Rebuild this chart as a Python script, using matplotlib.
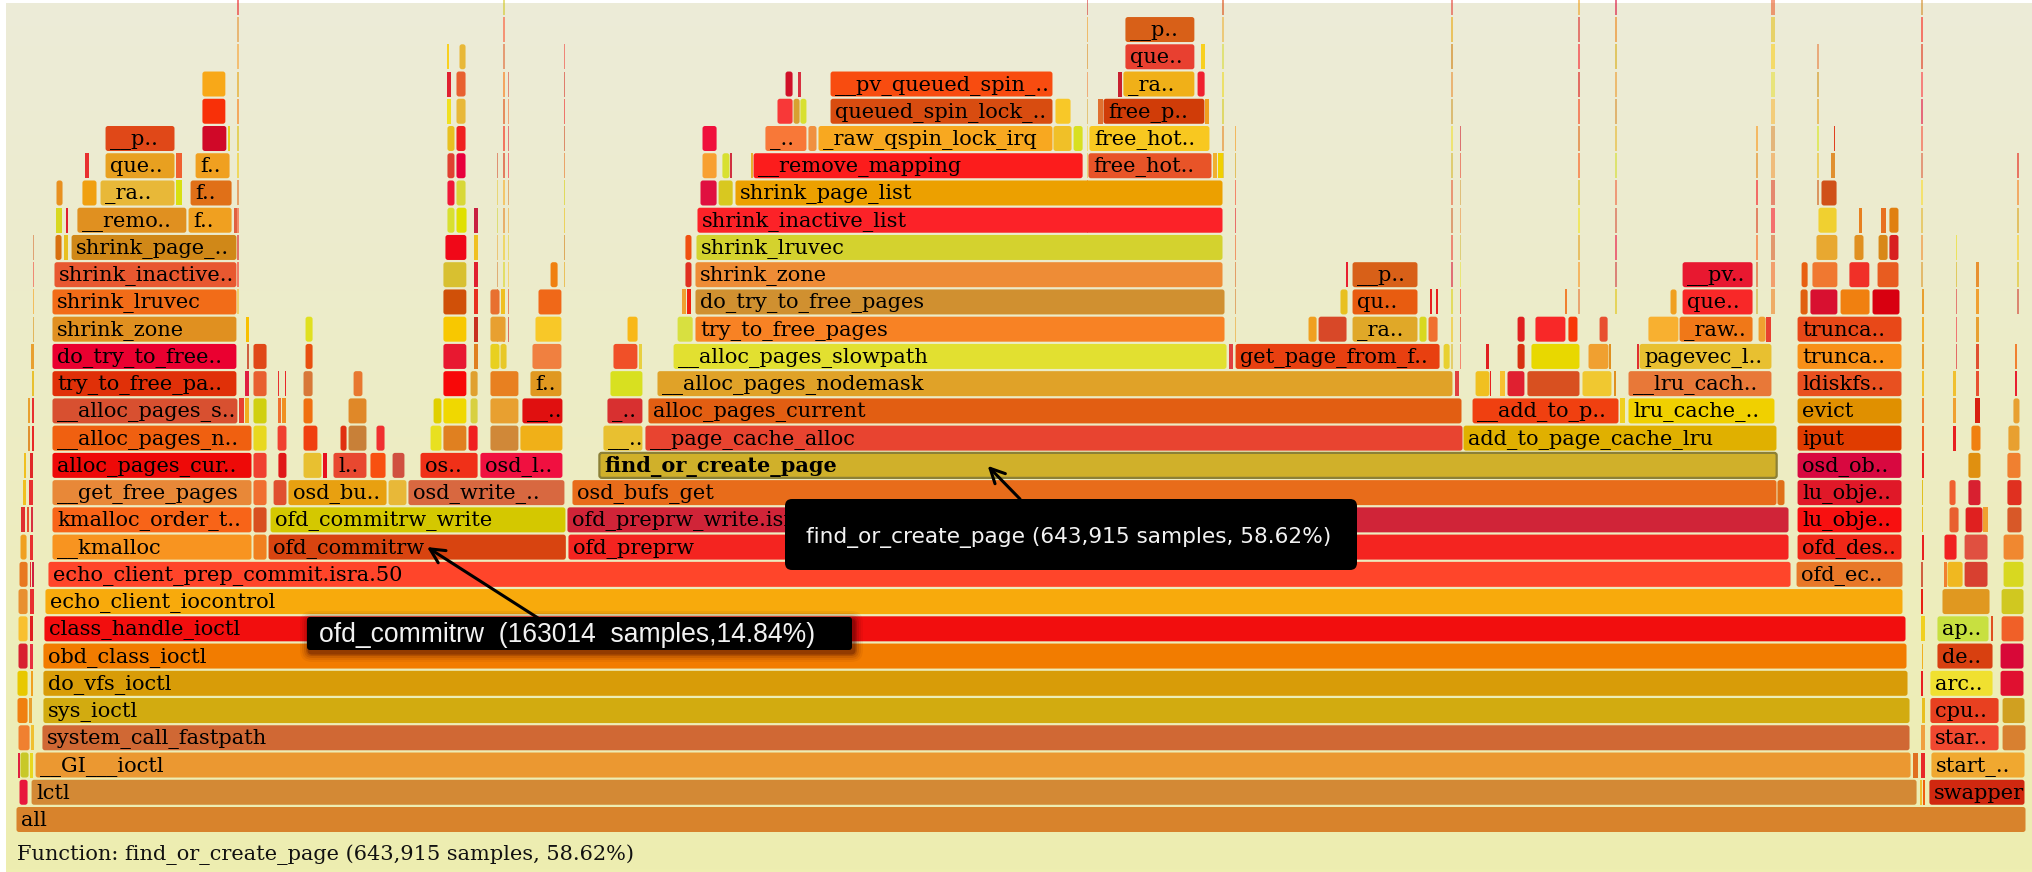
import zlib
import numpy as np
import matplotlib
matplotlib.use("Agg")
import matplotlib.pyplot as plt
from matplotlib.patches import FancyBboxPatch, Rectangle
from matplotlib import transforms
from matplotlib.colors import to_rgb

# ---------------------------------------------------------------- data
TOTAL_SAMPLES = 1098456
FOCUS_SAMPLES = {"find_or_create_page": 643915, "ofd_commitrw": 163014}

# frames per stack depth: (start %, width %, label)
STACKS = {
    0: [(0.00, 100.00, "all")],
    1: [(0.15, 0.45, ""), (0.75, 93.83, "lctl"), (94.68, 0.15, ""), (94.83, 0.19, ""),
        (95.17, 4.78, "swapper")],
    2: [(0.05, 0.15, ""), (0.20, 0.45, ""), (0.65, 0.20, ""), (0.95, 93.33, "__GI___ioctl"),
        (94.33, 0.30, ""), (94.73, 0.25, ""), (95.27, 4.68, "start_..")],
    3: [(0.10, 0.60, ""), (0.70, 0.20, ""), (1.29, 92.94, "system_call_fastpath"),
        (94.73, 0.25, ""), (95.22, 3.44, "star.."), (98.81, 1.19, "")],
    4: [(0.05, 0.55, ""), (0.60, 0.20, ""), (1.34, 92.89, "sys_ioctl"), (94.78, 0.20, ""),
        (95.22, 3.44, "cpu.."), (98.81, 1.14, "")],
    5: [(0.05, 0.55, ""), (0.70, 0.15, ""), (1.34, 92.79, "do_vfs_ioctl"), (94.73, 0.15, ""),
        (95.22, 3.14, "arc.."), (98.71, 1.19, "")],
    6: [(0.10, 0.50, ""), (0.65, 0.20, ""), (1.34, 92.74, "obd_class_ioctl"), (94.78, 0.10, ""),
        (95.57, 2.79, "de.."), (98.71, 1.19, "")],
    7: [(0.10, 0.50, ""), (0.65, 0.20, ""), (1.39, 92.64, "class_handle_ioctl"),
        (94.73, 0.25, ""), (95.57, 2.59, "ap.."), (98.21, 0.15, ""), (98.76, 1.14, "")],
    8: [(0.10, 0.50, ""), (0.65, 0.25, ""), (1.44, 92.44, "echo_client_iocontrol"),
        (94.73, 0.15, ""), (95.82, 2.39, ""), (98.76, 1.14, "")],
    9: [(0.15, 0.45, ""), (0.65, 0.10, ""), (0.75, 0.15, ""),
        (1.59, 86.72, "echo_client_prep_commit.isra.50"), (88.56, 5.32, "ofd_ec.."),
        (94.73, 0.15, ""), (95.92, 0.15, ""), (96.07, 0.80, ""), (96.92, 1.19, ""),
        (98.86, 1.04, "")],
    10: [(0.20, 0.35, ""), (0.65, 0.20, ""), (1.79, 9.95, "__kmalloc"), (11.79, 0.70, ""),
         (12.54, 14.84, "ofd_commitrw"), (27.46, 60.75, "ofd_preprw"), (88.61, 5.22, "ofd_des.."),
         (94.78, 0.15, ""), (95.92, 0.65, ""), (96.92, 1.19, ""), (98.86, 1.04, "")],
    11: [(0.20, 0.25, ""), (0.50, 0.15, ""), (0.70, 0.15, ""), (1.79, 9.95, "kmalloc_order_t.."),
         (11.79, 0.70, ""), (12.64, 14.72, "ofd_commitrw_write"),
         (27.41, 60.80, "ofd_preprw_write.isra.46"), (88.61, 5.22, "lu_obje.."),
         (94.78, 0.10, ""), (96.17, 0.50, ""), (96.97, 0.89, ""), (97.86, 0.25, ""),
         (99.05, 0.75, "")],
    12: [(0.30, 0.20, ""), (0.60, 0.25, ""), (1.79, 9.95, "__get_free_pages"), (11.79, 0.70, ""),
         (12.79, 0.69, ""), (13.53, 4.93, "osd_bu.."), (18.51, 0.94, ""),
         (19.50, 7.81, "osd_write_.."), (27.66, 59.95, "osd_bufs_get"), (87.61, 0.40, ""),
         (88.61, 5.22, "lu_obje.."), (94.78, 0.10, ""), (96.17, 0.35, ""), (97.11, 0.65, ""),
         (99.05, 0.75, "")],
    13: [(0.35, 0.15, ""), (0.65, 0.20, ""), (1.79, 9.95, "alloc_pages_cur.."), (11.79, 0.70, ""),
         (13.03, 0.45, ""), (14.28, 0.94, ""), (15.27, 0.25, ""), (15.77, 1.69, "l.."),
         (17.61, 0.80, ""), (18.71, 0.64, ""), (20.10, 2.89, "os.."), (23.08, 4.13, "osd_l.."),
         (28.91, 0.09, ""), (29.00, 58.62, "find_or_create_page"), (88.61, 5.22, "osd_ob.."),
         (94.78, 0.15, ""), (97.11, 0.65, ""), (99.05, 0.70, "")],
    14: [(0.55, 0.15, ""), (0.75, 0.15, ""), (1.79, 9.95, "__alloc_pages_n.."), (11.79, 0.70, ""),
         (12.99, 0.49, ""), (14.28, 0.74, ""), (16.12, 0.35, ""), (16.52, 0.94, ""),
         (17.91, 0.45, ""), (20.60, 0.59, ""), (21.24, 1.19, ""), (22.49, 0.50, ""),
         (23.58, 1.44, ""), (25.07, 2.14, ""), (29.20, 1.99, "__.."),
         (31.29, 40.70, "__page_cache_alloc"), (71.99, 15.62, "add_to_page_cache_lru"),
         (88.61, 5.22, "iput"), (94.78, 0.15, ""), (96.32, 0.20, ""), (97.26, 0.50, ""),
         (99.10, 0.60, "")],
    15: [(0.55, 0.15, ""), (0.75, 0.15, ""), (1.79, 9.25, "__alloc_pages_s.."), (11.09, 0.30, ""),
         (11.39, 0.25, ""), (11.79, 0.70, ""), (12.99, 0.24, ""), (13.23, 0.25, ""),
         (14.28, 0.50, ""), (16.52, 0.94, ""), (20.75, 0.44, ""), (21.24, 1.19, ""),
         (22.59, 0.40, ""), (23.58, 1.44, ""), (25.17, 2.04, "__.."), (29.40, 1.79, "_.."),
         (31.44, 40.50, "alloc_pages_current"), (72.44, 7.31, "__add_to_p.."), (79.80, 0.25, ""),
         (80.20, 7.31, "lru_cache_.."), (88.61, 5.22, "evict"), (94.78, 0.15, ""),
         (96.32, 0.20, ""), (97.46, 0.30, ""), (99.35, 0.35, "")],
    16: [(0.75, 0.15, ""), (1.79, 9.20, "try_to_free_pa.."), (11.39, 0.25, ""), (11.79, 0.70, ""),
         (12.99, 0.10, ""), (13.38, 0.10, ""), (14.28, 0.50, ""), (16.77, 0.49, ""),
         (21.24, 1.19, ""), (22.59, 0.40, ""), (23.58, 1.44, ""), (25.57, 1.59, "f.."),
         (29.55, 1.64, ""), (31.89, 39.60, "__alloc_pages_nodemask"), (71.59, 0.25, ""),
         (72.59, 0.74, ""), (73.33, 0.10, ""), (73.83, 0.25, ""), (74.18, 0.89, ""),
         (75.17, 2.64, ""), (77.91, 1.49, ""), (79.50, 0.15, ""), (80.20, 7.16, "__lru_cach.."),
         (88.61, 5.22, "ldiskfs.."), (94.78, 0.15, ""), (96.32, 0.20, ""), (97.51, 0.20, ""),
         (99.45, 0.15, "")],
    17: [(0.70, 0.20, ""), (1.79, 9.20, "do_try_to_free.."), (11.49, 0.15, ""), (11.79, 0.70, ""),
         (14.38, 0.40, ""), (21.24, 1.19, ""), (22.74, 0.25, ""), (23.58, 0.50, ""),
         (24.08, 0.35, ""), (25.67, 1.49, ""), (29.70, 1.24, ""), (30.99, 0.20, ""),
         (32.69, 27.56, "__alloc_pages_slowpath"), (60.30, 0.25, ""),
         (60.65, 10.20, "get_page_from_f.."), (71.00, 0.35, ""), (73.13, 0.20, ""),
         (74.68, 0.40, ""), (75.37, 2.44, ""), (78.21, 1.04, ""), (79.25, 0.15, ""),
         (80.60, 0.15, ""), (80.75, 6.61, "pagevec_l.."), (88.61, 5.22, "trunca.."),
         (94.78, 0.15, ""), (97.51, 0.20, ""), (99.45, 0.15, "")],
    18: [(1.79, 9.20, "shrink_zone"), (11.44, 0.20, ""), (14.38, 0.40, ""), (21.24, 1.19, ""),
         (22.74, 0.25, ""), (23.58, 0.80, ""), (25.82, 1.34, ""), (30.40, 0.55, ""),
         (32.89, 0.80, ""), (33.78, 26.37, "try_to_free_pages"), (64.28, 0.45, ""),
         (64.78, 1.44, ""), (66.47, 3.28, "_ra.."), (69.80, 0.40, ""), (70.25, 0.50, ""),
         (74.68, 0.40, ""), (75.57, 1.54, ""), (77.21, 0.50, ""), (78.76, 0.45, ""),
         (81.19, 1.54, ""), (82.74, 3.68, "_raw.."), (86.67, 0.40, ""), (87.06, 0.30, ""),
         (88.61, 5.22, "trunca.."), (94.78, 0.15, ""), (97.51, 0.20, "")],
    19: [(1.79, 9.20, "shrink_lruvec"), (21.24, 1.19, ""), (22.74, 0.25, ""), (23.58, 0.50, ""),
         (24.08, 0.25, ""), (25.97, 1.19, ""), (33.13, 0.25, ""), (33.38, 0.25, ""),
         (33.78, 26.37, "do_try_to_free_pages"), (65.87, 0.40, ""), (66.47, 3.28, "qu.."),
         (70.30, 0.15, ""), (70.60, 0.15, ""), (77.06, 0.15, ""), (82.29, 0.35, ""),
         (82.89, 3.53, "que.."), (88.76, 0.40, ""), (89.25, 1.39, ""), (90.75, 1.49, ""),
         (92.34, 1.39, ""), (94.78, 0.15, ""), (97.51, 0.20, "")],
    20: [(1.89, 9.10, "shrink_inactive.."), (21.24, 1.19, ""), (22.74, 0.25, ""),
         (26.57, 0.40, ""), (33.28, 0.35, ""), (33.78, 26.27, "shrink_zone"), (66.12, 0.15, ""),
         (66.47, 3.28, "__p.."), (82.89, 3.53, "__pv.."), (88.81, 0.35, ""), (89.35, 1.29, ""),
         (91.19, 1.04, ""), (92.59, 1.09, ""), (97.51, 0.20, "")],
    21: [(1.94, 0.35, ""), (2.34, 0.25, ""), (2.74, 8.25, "shrink_page_.."), (21.34, 1.09, ""),
         (22.74, 0.25, ""), (33.28, 0.35, ""), (33.83, 26.22, "shrink_lruvec"), (89.55, 1.09, ""),
         (91.44, 0.50, ""), (92.64, 0.50, ""), (93.18, 0.50, "")],
    22: [(1.99, 0.30, ""), (2.44, 0.15, ""), (3.03, 5.47, "__remo.."), (8.56, 2.19, "f.."),
         (10.80, 0.20, ""), (21.44, 0.40, ""), (21.89, 0.55, ""), (22.74, 0.25, ""),
         (33.88, 26.17, "shrink_inactive_list"), (89.65, 0.95, ""), (91.69, 0.20, ""),
         (92.74, 0.30, ""), (93.18, 0.50, "")],
    23: [(1.99, 0.35, ""), (3.28, 0.75, ""), (4.18, 3.73, "_ra.."), (7.96, 0.30, ""),
         (8.66, 2.09, "f.."), (21.44, 0.40, ""), (21.89, 0.50, ""), (34.03, 0.85, ""),
         (34.93, 0.75, ""), (35.77, 24.28, "shrink_page_list"), (89.80, 0.80, "")],
    24: [(3.43, 0.25, ""), (4.43, 3.48, "que.."), (7.96, 0.30, ""), (8.91, 1.74, "f.."),
         (21.44, 0.40, ""), (21.89, 0.50, ""), (34.13, 0.75, ""), (35.12, 0.40, ""),
         (35.52, 0.15, ""), (36.52, 0.15, ""), (36.67, 16.42, "__remove_mapping"),
         (53.33, 6.17, "free_hot.."), (59.55, 0.25, ""), (59.80, 0.25, ""), (90.25, 0.25, "")],
    25: [(4.43, 3.48, "__p.."), (9.25, 1.24, ""), (10.50, 0.15, ""), (21.44, 0.40, ""),
         (21.89, 0.50, ""), (34.13, 0.75, ""), (37.26, 2.09, "_.."), (39.40, 0.45, ""),
         (39.90, 11.69, "_raw_qspin_lock_irq"), (51.59, 0.95, ""), (52.59, 0.50, ""),
         (53.38, 6.02, "free_hot.."), (90.40, 0.10, "")],
    26: [(9.25, 1.19, ""), (21.44, 0.25, ""), (21.89, 0.50, ""), (37.86, 0.80, ""),
         (38.66, 0.35, ""), (39.00, 0.35, ""), (40.50, 11.09, "queued_spin_lock_.."),
         (51.69, 0.80, ""), (53.83, 0.25, ""), (54.08, 5.07, "free_p.."), (59.15, 0.25, "")],
    27: [(9.25, 1.19, ""), (21.44, 0.25, ""), (21.89, 0.50, ""), (38.26, 0.40, ""),
         (38.86, 0.20, ""), (40.50, 11.09, "__pv_queued_spin_.."), (54.78, 0.25, ""),
         (55.07, 3.58, "_ra.."), (58.76, 0.40, "")],
    28: [(21.44, 0.15, ""), (22.04, 0.35, ""), (55.17, 3.48, "que.."), (58.91, 0.25, "")],
    29: [(55.17, 3.48, "__p..")],
}

# hair-thin towers: (start %, width %, lowest depth, highest depth)
SPIKES = [
    (0.85, 0.06, 17, 21), (10.99, 0.10, 19, 30), (23.93, 0.06, 18, 24),
    (24.23, 0.12, 18, 30), (24.48, 0.06, 18, 27), (27.26, 0.06, 20, 28),
    (53.28, 0.06, 22, 30), (60.00, 0.10, 24, 30), (60.65, 0.06, 18, 25),
    (71.39, 0.10, 17, 30), (71.84, 0.06, 17, 25), (77.71, 0.08, 19, 30),
    (79.55, 0.08, 19, 30), (86.57, 0.08, 19, 25), (87.31, 0.20, 19, 30),
    (89.60, 0.08, 23, 28), (94.78, 0.12, 20, 30), (96.52, 0.06, 17, 21),
    (99.55, 0.08, 19, 24),
]

# ---------------------------------------------------------------- colours
FILL = {
    0: ["#d8832c"],
    1: ["#e8183c", "#d38935", "#f0c030", "#f06010", "#d02810"],
    2: ["#e02040", "#c8c828", "#e8d820", "#eb9831", "#e07020", "#e82828", "#f0a830"],
    3: ["#f08030", "#f0c030", "#d06834", "#f0a040", "#f04830", "#d88030"],
    4: ["#f08010", "#e8a030", "#d2ab10", "#e8c020", "#e84020", "#d0a020"],
    5: ["#e8c800", "#f0a020", "#d89c08", "#e82020", "#f0e030", "#e01030"],
    6: ["#d82030", "#e83040", "#f27c00", "#f0b020", "#d84010", "#d80838"],
    7: ["#f8c030", "#e02020", "#f20e0e", "#f0d020", "#c8e040", "#e05020", "#f06028"],
    8: ["#e89030", "#e83030", "#f8aa0c", "#e82010", "#e09820", "#d0c820"],
    9: ["#e87820", "#e03030", "#d02040", "#ff452a", "#e87828", "#d06040", "#f08030",
        "#f0b820", "#d84030", "#d8d820"],
    10: ["#f0a020", "#e83030", "#f89420", "#f08020", "#d84410", "#f42420", "#f02818",
         "#e82020", "#f02020", "#e05040", "#f08830"],
    11: ["#e03030", "#e85030", "#d83040", "#f86418", "#d85020", "#d4c800", "#d02438",
         "#f81010", "#e8c020", "#e86030", "#e02020", "#f0a030", "#d85828"],
    12: ["#f0c020", "#e83030", "#e88838", "#f07030", "#e05030", "#e8a010", "#e8b838",
         "#d86840", "#e86c1a", "#e07018", "#e01828", "#e0c020", "#f06030", "#d82030",
         "#e03020"],
    13: ["#f0c020", "#e02828", "#ee0a08", "#f04030", "#e01818", "#e8c030", "#e81020",
         "#e84830", "#f85010", "#d05040", "#f03018", "#f01040", "#e89030", "#d0b02a",
         "#d80840", "#e82020", "#e09010", "#f08030"],
    14: ["#e09030", "#e82828", "#f06010", "#e8d820", "#f04030", "#f04010", "#e03010",
         "#c88038", "#f03030", "#e8e020", "#e08020", "#f02020", "#d08838", "#f0b018",
         "#e8c030", "#e84430", "#e0b000", "#e03c00", "#f06020", "#e82020", "#f08010",
         "#e8a030"],
    15: ["#e8a030", "#e83030", "#d85030", "#e84030", "#f0b020", "#d0d010", "#f07030",
         "#f09020", "#f07010", "#e08828", "#e0d000", "#f0d800", "#d8d040", "#e8a030",
         "#e01010", "#d83030", "#e25e12", "#f04010", "#f0d020", "#f0d000", "#e09000",
         "#f08030", "#f0a030", "#d82010", "#e8a030"],
    16: ["#e8c030", "#e03008", "#e02040", "#e86030", "#e83030", "#e82828", "#d87838",
         "#e87830", "#f80808", "#e0a030", "#e88020", "#e09820", "#d8e020", "#e0a228",
         "#e04040", "#f0c020", "#e82020", "#f8c030", "#e02030", "#d85020", "#f0c830",
         "#e09020", "#e87838", "#e85020", "#f0c030", "#f0c030", "#e85030", "#e82030"],
    17: ["#e8a030", "#ea0030", "#d06040", "#e04818", "#e85010", "#e81830", "#e08020",
         "#e8d020", "#e8c828", "#f08040", "#f05028", "#e8d040", "#e2e030", "#e04040",
         "#e84010", "#e8d030", "#e02020", "#d83010", "#e8d800", "#f0a030", "#e09020",
         "#e03030", "#e8c030", "#f89018", "#e8a030", "#e05030", "#f08030"],
    18: ["#e09020", "#f8c000", "#e0e020", "#f8c800", "#c83020", "#e8a030", "#f8c828",
         "#f8b818", "#d8e040", "#f88224", "#f0a020", "#d84828", "#e0a828", "#d8d820",
         "#f07030", "#e02020", "#f82828", "#f83808", "#e85030", "#f8b030", "#f07818",
         "#f0a030", "#e84030", "#e84818", "#f0b030", "#e8a030"],
    19: ["#f26c18", "#d05008", "#e83020", "#e87030", "#f0c020", "#f06818", "#f0a030",
         "#f02010", "#d09030", "#e8c020", "#e85c10", "#e82020", "#e82020", "#f08030",
         "#f0a020", "#f82828", "#e06010", "#d81030", "#f08010", "#d80010", "#e8a030",
         "#f0a030"],
    20: ["#e85830", "#d8c030", "#e02030", "#f08010", "#e03020", "#ee8c36", "#e82030",
         "#d86018", "#e81830", "#e86010", "#f07830", "#f03028", "#e85c20", "#e89030"],
    21: ["#d87010", "#e8c020", "#d08818", "#f00818", "#f0c020", "#f05010", "#d4d22e",
         "#e8a830", "#e09020", "#d88818", "#d82020"],
    22: ["#d8d820", "#e02030", "#e09020", "#f0a020", "#e06040", "#d8e030", "#e0e000",
         "#c82040", "#fc2228", "#f0d030", "#e88020", "#e87020", "#e08010"],
    23: ["#e89020", "#f0a010", "#e8b838", "#d8e010", "#e07018", "#f01838", "#d8d838",
         "#e01040", "#d8c820", "#eca000", "#d05018"],
    24: ["#e83030", "#e8a020", "#f06030", "#f0a020", "#e04030", "#e8003c", "#f8a030",
         "#d8e030", "#d03040", "#e8b030", "#fc1c1c", "#e85428", "#f0b030", "#f0d000",
         "#e09030"],
    25: ["#e04818", "#d00828", "#e8d020", "#e8c020", "#f02020", "#f0103c", "#f87838",
         "#f09040", "#f8a820", "#f0c028", "#d8e020", "#f8c820", "#e04020"],
    26: ["#f83008", "#f0e020", "#e8b838", "#f83838", "#d8a030", "#d8e030", "#d84c10",
         "#f8c828", "#e07030", "#d03c08", "#f0a020"],
    27: ["#f8a818", "#e02030", "#e86030", "#d01028", "#d83040", "#f84c10", "#c82030",
         "#f0b018", "#f02030"],
    28: ["#f8d020", "#e8b838", "#e84030", "#f8d020"],
    29: ["#d86018"],
}


def hot_colour(key):
    """Flame-graph style warm colour picked from a hash of the key."""
    v = zlib.crc32(key.encode())
    r = 205 + (v & 0xFF) * 50 // 255
    g = ((v >> 8) & 0xFF) * 230 // 255
    b = ((v >> 16) & 0xFF) * 55 // 255
    return (r / 255, g / 255, b / 255)


# ---------------------------------------------------------------- layout
W, H, DPI = 2033, 872, 100
LEFT_PX, RIGHT_PX = 16, 2026      # horizontal extent of the root frame
BASE_PX = 832                     # bottom edge of the root frame
ROW_PX, BAR_PX = 27.24, 25.0
PPX = (RIGHT_PX - LEFT_PX) / 100.0   # pixels per percent
BAR_H = BAR_PX / ROW_PX
HIGHLIGHT = "find_or_create_page"

fig = plt.figure(figsize=(W / DPI, H / DPI), dpi=DPI)
fig.patch.set_facecolor("white")

# warm background gradient
bg = fig.add_axes([6 / W, 0, 1 - 6 / W, 1 - 3 / H])
t = np.linspace(0, 1, 256)[:, None, None]
top_c = np.array(to_rgb("#ecebd8"))
bot_c = np.array(to_rgb("#eeeeb0"))
bg.imshow(top_c * (1 - t) + bot_c * t, aspect="auto", extent=[0, 1, 0, 1], origin="upper")
bg.axis("off")

ax = fig.add_axes([0, 0, 1, 1])
ax.set_xlim(-LEFT_PX / PPX, (W - LEFT_PX) / PPX)
ax.set_ylim(-(H - BASE_PX) / ROW_PX, BASE_PX / ROW_PX)
ax.axis("off")
ax.patch.set_alpha(0)

half = 0.5 / PPX
rad = 2.5 / PPX
aspect = PPX / ROW_PX
frame_at = {}

for depth, frames in STACKS.items():
    colours = FILL[depth]
    assert len(colours) == len(frames), depth
    for (start, width, name), colour in zip(frames, colours):
        x0, w = start + half, width - 2 * half
        hl = name == HIGHLIGHT
        if w * PPX >= 6:
            patch = FancyBboxPatch((x0, depth), w, BAR_H,
                                   boxstyle=f"round,pad=0,rounding_size={rad}",
                                   mutation_aspect=aspect, fc=colour,
                                   ec="#8c8036" if hl else "none",
                                   lw=1.6 if hl else 0, zorder=2)
        else:
            patch = Rectangle((x0, depth), max(w, 0.7 / PPX), BAR_H, fc=colour,
                              ec="none", lw=0, zorder=2)
        ax.add_patch(patch)
        if name:
            frame_at[name] = (start, width, depth)
            txt = ax.text(start + 5 / PPX, depth + 6 / ROW_PX, name, fontsize=15,
                          family="DejaVu Serif", fontweight="bold" if hl else "normal",
                          ha="left", va="baseline", color="black", zorder=3)
            txt.set_clip_path(patch)

for i, (start, width, d0, d1) in enumerate(SPIKES):
    for depth in range(d0, d1 + 1):
        ax.add_patch(Rectangle((start, depth), width, BAR_H,
                               fc=hot_colour(f"{i}/{depth}"), ec="none", lw=0,
                               alpha=0.55, zorder=1.5))

# ---------------------------------------------------------------- tooltips
tpx = transforms.Affine2D().scale(1 / W, -1 / H).translate(0, 1) + fig.transFigure

n1 = FOCUS_SAMPLES["find_or_create_page"]
p1 = 100.0 * n1 / TOTAL_SAMPLES
n2 = FOCUS_SAMPLES["ofd_commitrw"]
p2 = 100.0 * n2 / TOTAL_SAMPLES

# find_or_create_page call-out
box1 = FancyBboxPatch((785, 499), 572, 71, boxstyle="round,pad=0,rounding_size=7",
                      fc="black", ec="none", transform=tpx, zorder=5)
fig.add_artist(box1)
fig.text(806, 537, f"find_or_create_page ({n1:,} samples, {p1:.2f}%)", transform=tpx,
         family="DejaVu Sans", fontsize=15.6, color="#f2f2f2", va="center", ha="left",
         zorder=6)
s, w_, d = frame_at["find_or_create_page"]
ax.annotate("", xy=(s + 0.33 * w_, d + 0.44), xycoords="data",
            xytext=(1020, 499), textcoords=tpx,
            arrowprops=dict(arrowstyle="->", color="black", lw=2.2,
                            mutation_scale=26, shrinkA=0, shrinkB=0), zorder=7)

# ofd_commitrw call-out with soft shadow
for k, a in [(9, 0.05), (7, 0.07), (5, 0.10), (3, 0.16), (1.5, 0.25)]:
    fig.add_artist(FancyBboxPatch((307 - k + 2, 617 - k + 3), 545 + 2 * k, 33 + 2 * k,
                                  boxstyle=f"round,pad=0,rounding_size={3 + k}",
                                  fc="#3a0000", ec="none", alpha=a, transform=tpx,
                                  zorder=4.5))
box2 = FancyBboxPatch((307, 617), 545, 33, boxstyle="round,pad=0,rounding_size=3",
                      fc="black", ec="none", transform=tpx, zorder=5)
fig.add_artist(box2)
fig.text(319, 635, f"ofd_commitrw  ({n2}  samples,{p2:.2f}%)", transform=tpx,
         family="Liberation Sans", fontsize=19.1, color="#f2f2f2", va="center",
         ha="left", zorder=6)
s, w_, d = frame_at["ofd_commitrw"]
ax.annotate("", xy=(s + 0.533 * w_, d + 0.46), xycoords="data",
            xytext=(538, 618), textcoords=tpx,
            arrowprops=dict(arrowstyle="->", color="black", lw=2.2,
                            mutation_scale=26, shrinkA=0, shrinkB=0), zorder=7)

# status line
fig.text(17, 855, f"Function: find_or_create_page ({n1:,} samples, {p1:.2f}%)",
         transform=tpx, family="DejaVu Serif", fontsize=15, color="#111111",
         va="center", ha="left", zorder=6)

fig.savefig("out.png", dpi=DPI, facecolor=fig.get_facecolor())
